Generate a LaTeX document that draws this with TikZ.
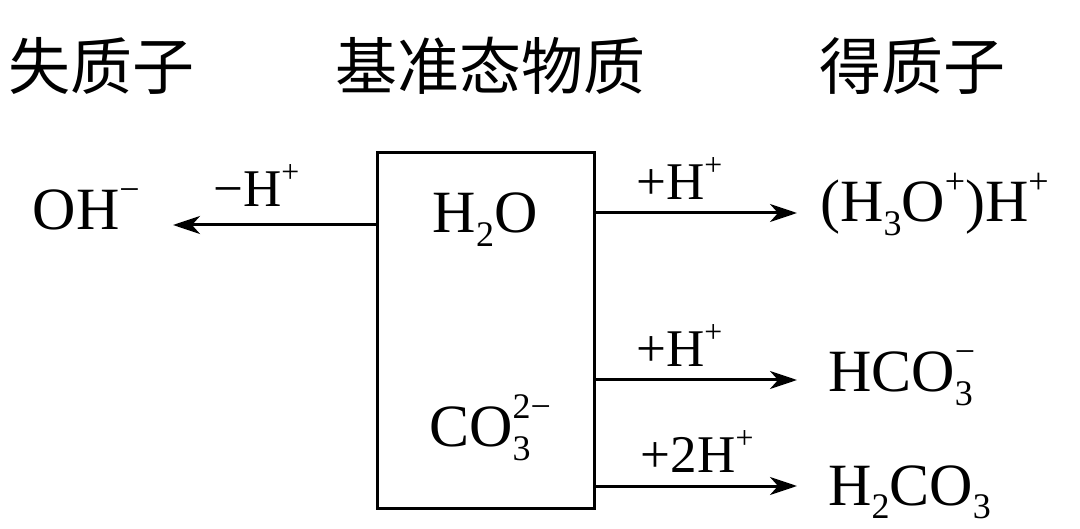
\documentclass[tikz,border=0pt]{standalone}
\usepackage{fontspec}
\setmainfont{Liberation Serif}
\newfontfamily\cjk{Noto Sans CJK SC}
\usetikzlibrary{positioning,arrows.meta}
% stacked subscript / superscript
\newcommand{\chsc}[2]{\ooalign{\raisebox{-0.22em}{\scalebox{0.6}{#1}}\cr\raisebox{0.47em}{\scalebox{0.6}{#2}}\cr}}
\tikzset{
  chem/.style={font=\fontsize{60}{66}\selectfont,inner sep=0pt,anchor=base},
  heading/.style={font=\cjk\fontsize{62}{66}\selectfont,inner sep=0pt},
  react/.style={line width=3pt,-{Stealth[length=27pt,width=18pt,inset=8pt]}},
  rlabel/.style={font=\fontsize{53}{58}\selectfont,inner sep=0pt,anchor=base,midway}
}
\begin{document}
\begin{tikzpicture}[x=1pt,y=-1pt]
\useasboundingbox (0,0) rectangle (1080,529);
% headings
\node[heading] (lose) at (102,66) {失质子};
\node[heading] (base) at (490,66) {基准态物质};
\node[heading] (gain) at (912,66) {得质子};
% reference species
\node[draw,line width=3pt,minimum width=217pt,minimum height=355pt,inner sep=0pt] (box) at (485.5,330.5) {};
\node[chem] (water) at (485,233) {H\chsc{2}{}O};
\node[chem] (carb) at (490,447) {CO\chsc{3}{2−}};
% products
\node[chem,anchor=base east] (oh) at (140,230) {OH\chsc{}{−}};
\node[chem,anchor=base west] (hydro) at (820,222) {(H\chsc{3}{}O\chsc{}{+})H\chsc{}{+}};
\node[chem,anchor=base west] (bicarb) at (828,392) {HCO\chsc{3}{−}};
\node[chem,anchor=base west] (acid) at (828,505) {H\chsc{2}{}CO\chsc{3}{}};
% arrow ends
\coordinate (l1) at (173,225);
\coordinate (r1) at (797,213);
\coordinate (r2) at (797,380);
\coordinate (r3) at (797,486);
\draw[react] (box.west |- l1) -- (l1) node[rlabel,yshift=18pt,xshift=-18pt] (minus) {−H\chsc{}{+}};
\draw[react] (box.east |- r1) -- (r1) node[rlabel,yshift=13pt,xshift=-17pt] (plus1) {+H\chsc{}{+}};
\draw[react] (box.east |- r2) -- (r2) node[rlabel,yshift=13pt,xshift=-17pt] (plus2) {+H\chsc{}{+}};
\draw[react] (box.east |- r3) -- (r3) node[rlabel,yshift=13pt,xshift=1pt] (plus3) {+2H\chsc{}{+}};
\end{tikzpicture}
\end{document}
